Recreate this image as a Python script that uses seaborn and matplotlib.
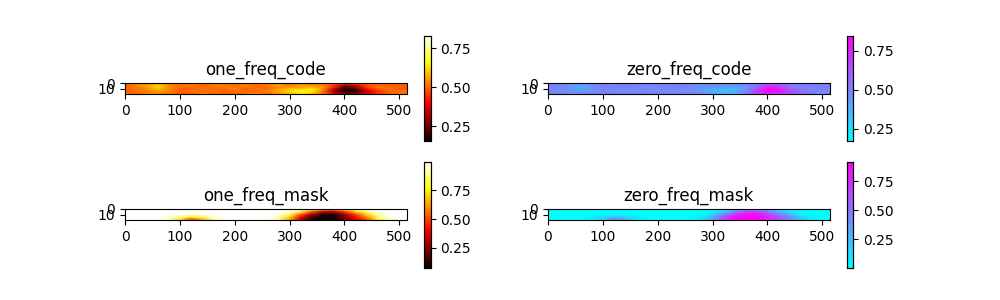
import matplotlib
matplotlib.use('Agg')
import matplotlib.pyplot as plt
import numpy as np
import seaborn as sns

# rows are y = 0, 5, 10, 15, 20 and columns are x = 0, 20, ... 520
one_freq_code = [
 [.50,.53,.51,.55,.53,.50,.53,.50,.54,.51,.53,.50,.54,.51,.55,.52,.53,.50,.52,.49,.46,.48,.50,.49,.51,.49,.50],
 [.48,.53,.57,.62,.54,.51,.53,.49,.52,.53,.50,.54,.49,.53,.56,.52,.56,.55,.54,.46,.30,.36,.47,.51,.48,.50,.48],
 [.50,.51,.55,.61,.53,.50,.49,.52,.50,.51,.53,.49,.52,.50,.55,.59,.58,.63,.55,.40,.17,.25,.43,.50,.52,.48,.49],
 [.49,.52,.52,.56,.54,.49,.52,.50,.53,.49,.52,.51,.50,.54,.57,.62,.68,.64,.52,.30,.15,.18,.33,.44,.49,.51,.52],
 [.52,.50,.53,.52,.51,.50,.49,.53,.50,.51,.49,.52,.53,.50,.55,.58,.62,.60,.51,.38,.28,.30,.37,.45,.50,.52,.50],
]
zero_freq_code = [
 [.50,.47,.49,.45,.47,.50,.47,.50,.46,.49,.47,.50,.46,.49,.45,.48,.47,.50,.48,.51,.54,.52,.50,.51,.49,.51,.50],
 [.52,.47,.43,.38,.46,.49,.47,.51,.48,.47,.50,.46,.51,.47,.44,.48,.44,.45,.46,.54,.70,.64,.53,.49,.52,.50,.52],
 [.50,.49,.45,.39,.47,.50,.51,.48,.50,.49,.47,.51,.48,.50,.45,.41,.42,.37,.45,.60,.83,.75,.57,.50,.48,.52,.51],
 [.51,.48,.48,.44,.46,.51,.48,.50,.47,.51,.48,.49,.50,.46,.43,.38,.32,.36,.48,.70,.85,.82,.67,.56,.51,.49,.48],
 [.48,.50,.47,.48,.49,.50,.51,.47,.50,.49,.51,.48,.47,.50,.45,.42,.38,.40,.49,.62,.72,.70,.63,.55,.50,.48,.50],
]
one_freq_mask = [
 [1.0,1.0,1.0,1.0,1.0,1.0,1.0,1.0,1.0,1.0,1.0,1.0,1.0,1.0,1.0,1.0,.99,.88,.70,.70,.86,.96,1.0,1.0,1.0,1.0,1.0],
 [1.0,1.0,1.0,1.0,1.0,1.0,1.0,1.0,1.0,1.0,1.0,1.0,1.0,1.0,1.0,.97,.82,.55,.35,.32,.50,.72,.90,.98,1.0,1.0,1.0],
 [1.0,1.0,1.0,1.0,1.0,.99,.97,.98,1.0,1.0,1.0,1.0,1.0,1.0,.98,.85,.55,.28,.14,.12,.30,.50,.72,.93,.99,1.0,1.0],
 [1.0,1.0,1.0,1.0,.98,.90,.80,.85,.96,1.0,1.0,1.0,1.0,.99,.94,.72,.40,.16,.08,.08,.24,.42,.60,.85,.97,1.0,1.0],
 [1.0,1.0,1.0,.99,.92,.72,.42,.62,.88,.98,1.0,1.0,1.0,.99,.88,.60,.30,.12,.08,.08,.20,.35,.50,.75,.93,.99,1.0],
]
zero_freq_mask = [
 [.0,.0,.0,.0,.0,.0,.0,.0,.0,.0,.0,.0,.0,.0,.0,.0,.01,.12,.30,.30,.14,.04,.0,.0,.0,.0,.0],
 [.0,.0,.0,.0,.0,.0,.0,.0,.0,.0,.0,.0,.0,.0,.0,.03,.18,.45,.65,.68,.50,.28,.10,.02,.0,.0,.0],
 [.0,.0,.0,.0,.0,.01,.03,.02,.0,.0,.0,.0,.0,.0,.02,.15,.45,.72,.86,.88,.70,.50,.28,.07,.01,.0,.0],
 [.0,.0,.0,.0,.02,.10,.20,.15,.04,.0,.0,.0,.0,.01,.06,.28,.60,.84,.91,.91,.76,.58,.40,.15,.03,.0,.0],
 [.0,.0,.0,.01,.08,.28,.58,.38,.12,.02,.0,.0,.0,.01,.12,.40,.70,.88,.91,.91,.80,.65,.50,.25,.07,.01,.0],
]

titles = ['one_freq_code', 'zero_freq_code', 'one_freq_mask', 'zero_freq_mask']
panels = [one_freq_code, zero_freq_code, one_freq_mask, zero_freq_mask]
cmaps = ['hot', 'cool', 'hot', 'cool']
limits = [(0.154, 0.827), (0.173, 0.846), (0.077, 0.998), (0.005, 0.914)]
x_labels = [0, 100, 200, 300, 400, 500]
y_labels = [0, 10]

# left, top and bottom in pixels
ax_boxes = [(125, 83, 94), (548, 83, 94), (125, 209, 220), (548, 209, 220)]
cb_boxes = [(424, 36, 141), (847, 36, 141), (424, 162, 267.5), (847, 162, 267.5)]

W, H = 1000, 300
fig = plt.figure(figsize=(10, 3), dpi=100)

for i in range(4):
    left, top, bottom = ax_boxes[i]
    ax = fig.add_axes([left / W, 1 - bottom / H, 281.5 / W, (bottom - top) / H])
    left, top, bottom = cb_boxes[i]
    cax = fig.add_axes([left / W, 1 - bottom / H, 6.5 / W, (bottom - top) / H])

    sns.heatmap(np.array(panels[i]), ax=ax, cbar_ax=cax, cmap=cmaps[i],
                vmin=limits[i][0], vmax=limits[i][1], shading='gouraud',
                xticklabels=False, yticklabels=False)

    # cells are 20 wide and 5 high, so ticks go through that
    ax.set_xlim(0, 513 / 20)
    ax.set_ylim(4, 0)
    ax.set_xticks([v / 20 for v in x_labels], x_labels)
    ax.set_yticks([v / 5 for v in y_labels], y_labels, rotation=0)
    ax.tick_params(left=True, bottom=True, labelsize=10)
    ax.set_title(titles[i], fontsize=12)
    for s in ax.spines.values():
        s.set_visible(True)
        s.set_linewidth(0.8)

    cax.set_yticks([0.25, 0.5, 0.75], ['0.25', '0.50', '0.75'])
    cax.tick_params(labelsize=10, length=3.5, width=0.8)
    for s in cax.spines.values():
        s.set_visible(True)
        s.set_linewidth(0.8)

fig.savefig('out.png', dpi=100)
